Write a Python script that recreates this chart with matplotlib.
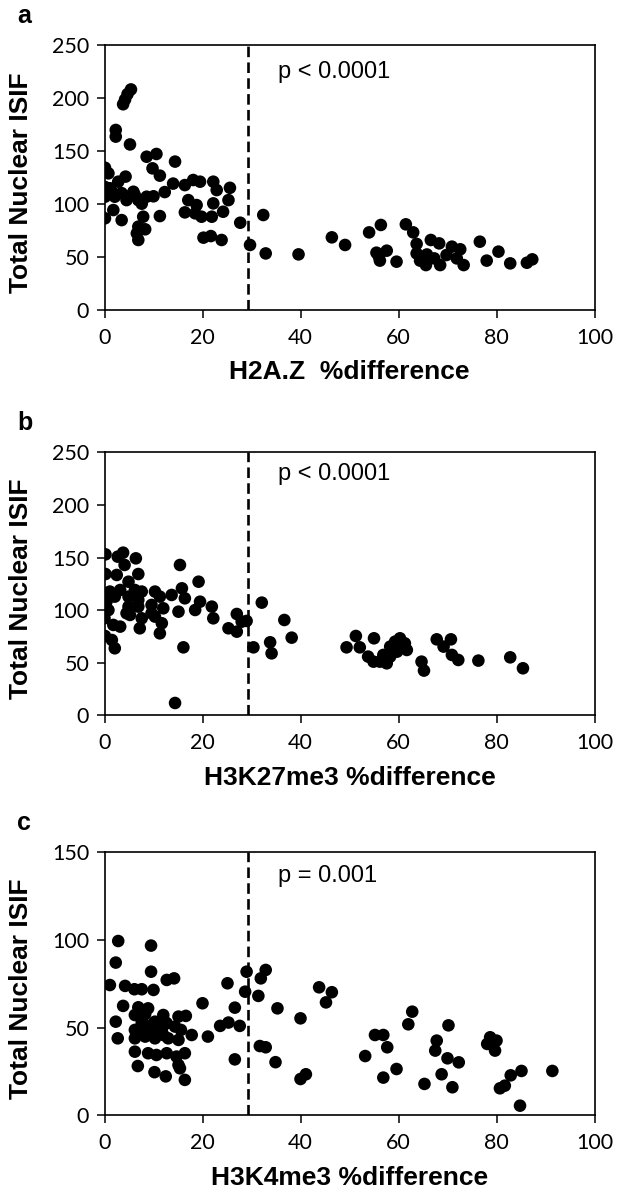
import numpy as np
import matplotlib
matplotlib.use("Agg")
import matplotlib.pyplot as plt

# ── Data ───────────────────────────────────────────────────
# panel a : H2A.Z
h2az_x = [5.4, 4.7, 4.2, 3.8, 2.3, 2.3, 5.2, 0.1, 0.8, 8.6, 10.6, 14.4, 9.8, 11.3,
          0.0, 4.3, 2.8, 4.9, 6.2, 0.1, 2.1, 7.6, 10.0, 12.3, 14.0, 16.4, 18.1, 19.5,
          22.2, 22.9, 25.6, 17.1, 18.8, 22.2, 25.3, 24.2, 16.4, 18.5, 19.8, 21.9, 11.3,
          0.1, 1.8, 3.5, 7.9, 6.9, 8.3, 6.6, 6.9, 20.2, 21.7, 23.9, 27.7, 29.7, 32.4,
          32.9, 1.5, 5.9, 6.9, 4.5, 8.6, 3.5, 1.1,
          39.6, 46.4, 49.1, 54.0, 56.4, 55.5, 57.6, 56.2, 56.0, 59.6, 61.5, 63.0, 63.7,
          63.7, 64.4, 65.6, 66.6, 68.3, 67.3, 68.5, 70.9, 69.8, 72.6, 71.9, 73.3, 76.6,
          78.0, 80.4, 82.8, 86.2, 87.3, 65.8]
h2az_y = [208, 203.6, 198.5, 194, 169.7, 163.4, 156, 134, 128.7, 144.4, 147, 139.8, 133.4, 126.5,
          116, 125.6, 120.8, 106.6, 108, 106.6, 106.6, 100, 107, 111, 119, 117.6, 122.4, 120.8,
          120.8, 112.9, 115, 103.4, 98.7, 100.3, 103.4, 92.4, 91.8, 90.9, 87.7, 87.7, 88.3,
          86.2, 94, 84.5, 87.7, 78.3, 75.8, 72, 65.7, 67.9, 69.4, 65.7, 82, 61, 89.3,
          53, 111.3, 111.3, 103.4, 103.4, 106.6, 110, 114.6,
          52.1, 68.2, 61, 72.9, 79.9, 53.7, 55.6, 46.2, 50, 45.2, 80.5, 72.9, 62,
          53, 46.2, 42, 65.7, 62.5, 48.3, 42, 59.4, 51.5, 56.9, 48.3, 42, 64.1,
          46.2, 54.7, 43.6, 44.2, 47.4, 52]

# panel b : H3K27me3
h3k27_x = [0.2, 3.8, 6.4, 2.7, 4.1, 0.2, 2.5, 6.9, 15.4, 4.9, 19.2, 1.1, 3.2, 6.2,
           7.6, 10.3, 15.8, 13.7, 11.3, 16.4, 0.4, 0.1, 4.9, 6.9, 9.6, 12.0, 19.5, 18.5,
           21.9, 15.1, 5.2, 7.6, 10.3, 0.0, 22.2, 27.0, 28.0, 25.3, 27.0, 29.0, 1.8, 3.2,
           7.2, 11.7, 11.3, 0.1, 1.5, 2.1, 16.1, 30.4, 33.8, 34.1, 32.1, 36.7, 38.2, 14.4,
           2.1, 4.9, 6.9, 4.5, 9.6, 0.8,
           51.3, 49.4, 52.1, 55.0, 53.8, 54.9, 56.2, 57.6, 56.9, 58.3, 59.3, 60.3, 61.3,
           61.7, 59.7, 58.3, 64.7, 65.2, 67.8, 70.7, 69.2, 70.9, 72.2, 76.3, 82.8, 85.4]
h3k27_y = [153, 154.6, 149.2, 150.8, 142.9, 134.3, 133.4, 134.3, 142.9, 127, 127, 117.6, 119.1, 119.1,
           117.6, 117.6, 120.7, 114.4, 112.8, 111.2, 108, 98.5, 103.3, 103.3, 104.9, 101.7, 108, 100.1,
           103.3, 98.5, 95.4, 92.2, 93.8, 92.2, 92.2, 96.3, 89, 82.7, 79.5, 89.7, 85.9, 84.3,
           82.7, 87.5, 77.9, 75.4, 71.6, 63.7, 64.6, 64.6, 69.4, 58.9, 107.1, 90.6, 73.8, 11.7,
           112.8, 112.8, 109.6, 97, 97, 100,
           75.4, 64.6, 64.6, 73.2, 55.8, 51, 51, 49.4, 57.4, 65.3, 70, 73.2, 68.4,
           62.1, 60.5, 55.8, 51, 42.5, 72.2, 72.2, 65.3, 57.4, 52.6, 52, 55.1, 44.7]

# panel c : H3K4me3
h3k4_x = [2.8, 9.5, 2.3, 9.5, 29.0, 32.9, 31.9, 12.7, 14.2, 1.1, 4.2, 6.1, 7.6, 10.0,
          25.1, 28.7, 31.4, 3.8, 6.9, 8.9, 20.0, 26.6, 35.3, 6.2, 8.3, 12.0, 15.1, 16.6,
          2.3, 7.6, 10.3, 12.7, 23.6, 25.3, 27.6, 6.2, 8.9, 11.7, 15.6, 17.8, 2.7, 6.2,
          8.3, 10.3, 13.0, 15.1, 21.1, 31.7, 32.9, 6.2, 8.9, 10.6, 12.7, 16.4, 14.7, 26.6,
          34.9, 6.8, 15.1, 15.4, 10.2, 12.5, 16.4, 7.6, 10.0, 12.3, 7.6, 9.6, 12.0, 14.4,
          43.8, 46.4, 45.2, 40.0, 40.0, 41.1, 53.2, 55.2, 56.9, 57.7, 56.9, 59.6, 62.8,
          62.0, 70.2, 67.8, 67.5, 70.0, 72.3, 68.8, 65.3, 71.0, 78.7, 80.0, 78.1, 79.7,
          85.1, 82.9, 81.7, 80.7, 84.8, 91.4]
h3k4_y = [99.4, 96.8, 87.1, 81.9, 81.9, 82.9, 78.1, 77.2, 78.1, 74.3, 73.8, 71.9, 71.9, 71.5,
          75.3, 70.5, 68.1, 62.4, 61.6, 61, 63.9, 61.4, 61, 57.2, 57.8, 57.2, 56.3, 56.7,
          53.4, 52.5, 53.4, 52.5, 51, 52.9, 51, 48.7, 48.7, 48.7, 48.7, 45.8, 43.9, 43.9,
          44.9, 43.9, 43.9, 43, 44.9, 39.5, 38.8, 36.3, 35.4, 34.4, 35.4, 35.4, 33.5, 31.9,
          30.3, 28.1, 28.7, 26.8, 24.6, 22.2, 20.2, 54.4, 52.5, 53.4, 46.8, 46.8, 45.8, 50.6,
          73, 70.2, 64.4, 55.3, 20.7, 23.4, 33.8, 45.8, 45.8, 38.8, 21.5, 26.4, 59.1,
          51.9, 51.3, 42.6, 36.9, 32.5, 30.2, 23.4, 17.9, 16, 44.5, 42.6, 40.7, 36.9,
          25.3, 22.8, 16.9, 15.4, 5.5, 25.3]

panel_letters = ["a", "b", "c"]
x_titles = ["H2A.Z  %difference", "H3K27me3 %difference", "H3K4me3 %difference"]
p_texts = ["p < 0.0001", "p < 0.0001", "p = 0.001"]
y_max = [250, 250, 150]
cutoff = 29.3

# ── Layout (figure fractions) ──────────────────────────────
W, H = 626, 1191
LEFT, RIGHT = 104.5, 594.5
tops = [45, 452.3, 852.3]
bottoms = [309.5, 715.3, 1115.3]
p_ypos = [0.899, 0.918, 0.91]

TICK_FONT = "Lato"
BOLD_FONT = "Liberation Sans"


def draw_panel(fig, i, xs, ys):
    ax = fig.add_axes([LEFT / W, 1 - bottoms[i] / H,
                       (RIGHT - LEFT) / W, (bottoms[i] - tops[i]) / H])
    ax.scatter(xs, ys, s=82, color="black", edgecolors="none", zorder=3)
    ax.axvline(cutoff, color="black", linewidth=1.9, linestyle=(0, (4, 2)), zorder=2)

    ax.set_xlim(0, 100)
    ax.set_ylim(0, y_max[i])
    ax.set_xticks(np.arange(0, 101, 20))
    ax.set_yticks(np.arange(0, y_max[i] + 1, 50))
    ax.tick_params(direction="out", length=6, width=1.1, labelsize=15.5, pad=7)
    ax.tick_params(axis="y", pad=5)
    for lab in ax.get_xticklabels() + ax.get_yticklabels():
        lab.set_family(TICK_FONT)
    for sp in ax.spines.values():
        sp.set_linewidth(1.2)

    ax.set_xlabel(x_titles[i], fontsize=19, fontweight="bold",
                  family=BOLD_FONT, labelpad=9)
    ax.set_ylabel("Total Nuclear ISIF", fontsize=19, fontweight="bold",
                  family=BOLD_FONT)
    ax.yaxis.set_label_coords(-0.146, 0.48)

    ax.text(0.355, p_ypos[i], p_texts[i], transform=ax.transAxes,
            fontsize=17, family=BOLD_FONT, va="center", ha="left")

    fig.text(17 / W, 1 - (tops[i] - 22) / H, panel_letters[i], fontsize=18,
             fontweight="bold", family=BOLD_FONT, va="baseline", ha="left")
    return ax


fig = plt.figure(figsize=(W / 100, H / 100), dpi=100)
draw_panel(fig, 0, h2az_x, h2az_y)
draw_panel(fig, 1, h3k27_x, h3k27_y)
draw_panel(fig, 2, h3k4_x, h3k4_y)

plt.savefig("out.png", dpi=100)
